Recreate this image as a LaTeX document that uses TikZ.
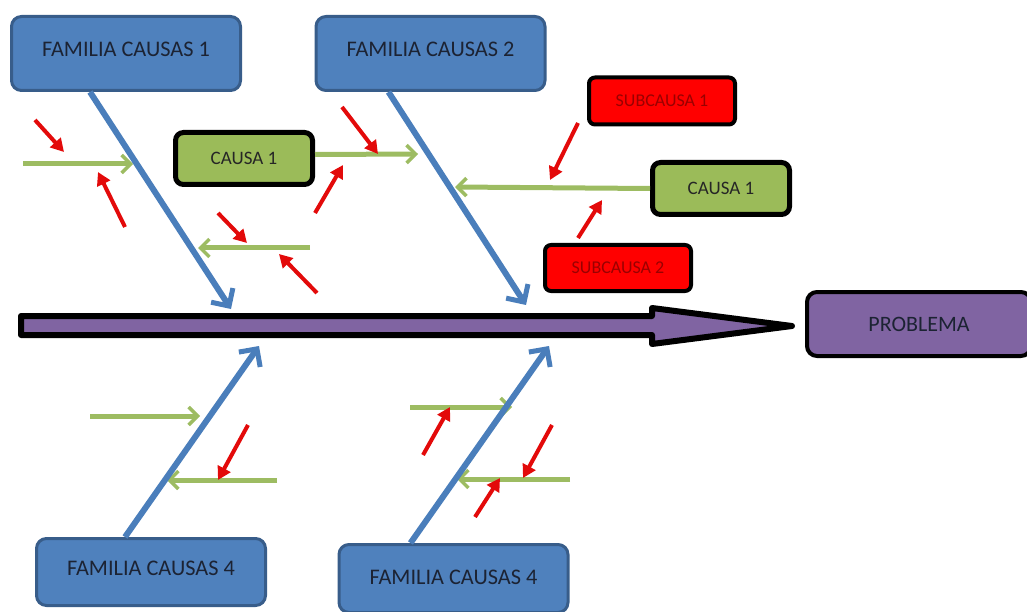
\documentclass[tikz,border=0pt]{standalone}
\usepackage{fontspec}
\setmainfont{Carlito}
\usepackage{tikz}
\usetikzlibrary{arrows.meta}

\definecolor{famblue}{HTML}{4F81BD}
\definecolor{famline}{HTML}{385D8A}
\definecolor{famtext}{HTML}{1C2333}
\definecolor{boneblue}{HTML}{4A7EBB}
\definecolor{causegreen}{HTML}{9BBB59}
\definecolor{bonegreen}{HTML}{9DBC62}
\definecolor{subred}{HTML}{FF0000}
\definecolor{subtext}{HTML}{9A0000}
\definecolor{arrowred}{HTML}{E30A0A}
\definecolor{probpurple}{HTML}{8064A2}

\begin{document}
\begin{tikzpicture}[
    x=1pt, y=-1pt,
    famblock/.style={rectangle, draw=famline, fill=famblue, line width=3pt, rounded corners=10pt, minimum width=229pt, minimum height=74pt, inner sep=0pt, text depth=8pt, text=famtext, font=\fontsize{22.3}{25}\selectfont},
    causebox/.style={rectangle, draw=black, fill=causegreen, line width=5pt, rounded corners=8pt, minimum width=137pt, minimum height=52pt, inner sep=0pt, text=black!85, font=\fontsize{19}{22}\selectfont},
    subbox/.style={rectangle, draw=black, fill=subred, line width=4pt, rounded corners=6pt, minimum width=146pt, minimum height=47pt, inner sep=0pt, text=subtext, font=\fontsize{18}{21}\selectfont},
    probbox/.style={rectangle, draw=black, fill=probpurple, line width=4pt, rounded corners=10pt, minimum width=224pt, minimum height=64pt, inner sep=0pt, text=famtext, font=\fontsize{22}{26}\selectfont},
    famarrow/.style={-{Straight Barb[length=13pt,width=26pt,line width=5pt]}, draw=boneblue, line width=6pt},
    causearrow/.style={-{Straight Barb[length=9pt,width=18pt,line width=3.5pt]}, draw=bonegreen, line width=5pt},
    subarrow/.style={-{Triangle[length=13pt,width=14pt]}, draw=arrowred, line width=4pt}
]
\useasboundingbox (0,0) rectangle (1027,612);

% Spine
\filldraw[fill=probpurple, draw=black, line width=6pt, line join=round]
    (21,316) -- (652,316) -- (652,308) -- (792,326) -- (652,344) -- (652,335) -- (21,335) -- cycle;

% Boxes
\node[famblock] (fc1) at (126,53.5) {FAMILIA CAUSAS 1};
\node[famblock] (fc2) at (430.5,53.5) {FAMILIA CAUSAS 2};
\node[famblock, minimum height=67pt] (fc4a) at (151,572) {FAMILIA CAUSAS 4};
\node[famblock, minimum height=68pt, text depth=3pt] (fc4b) at (453.5,578.5) {FAMILIA CAUSAS 4};
\node[causebox] (causeL) at (244,158.5) {CAUSA 1};
\node[causebox] (causeR) at (721,188.5) {CAUSA 1};
\node[subbox] (sub1) at (662,101) {SUBCAUSA 1};
\node[subbox, minimum height=46pt] (sub2) at (618,268) {SUBCAUSA 2};
\node[probbox] (prob) at (919,324) {PROBLEMA};

% Bone ends on the spine
\coordinate (j1) at (231,309);
\coordinate (j2) at (526,305);
\coordinate (j3) at (259,346);
\coordinate (j4) at (549,346);

% Causes (green)
\coordinate (g1s) at (23,164);  \coordinate (g1e) at (133,164);
\coordinate (g2e) at (418,154);
\coordinate (g3s) at (310,248); \coordinate (g3e) at (198,248);
\coordinate (g4e) at (455,187);
\coordinate (g5s) at (90,416);  \coordinate (g5e) at (200,416);
\coordinate (g6s) at (277,480); \coordinate (g6e) at (167,480);
\coordinate (g7s) at (410,407); \coordinate (g7e) at (512,407);
\coordinate (g8s) at (570,479); \coordinate (g8e) at (457,479);

\draw[causearrow] (g1s) -- (g1e);
\draw[causearrow] ([yshift=4pt]causeL.east) -- (g2e);
\draw[causearrow] (g3s) -- (g3e);
\draw[causearrow] (causeR.west) -- (g4e);
\draw[causearrow] (g5s) -- (g5e);
\draw[causearrow] (g6s) -- (g6e);
\draw[causearrow] (g7s) -- (g7e);
\draw[causearrow] (g8s) -- (g8e);

% Families (blue)
\draw[famarrow] ([xshift=-36pt]fc1.south) -- (j1);
\draw[famarrow] ([xshift=-42pt]fc2.south) -- (j2);
\draw[famarrow] ([xshift=-26pt]fc4a.north) -- (j3);
\draw[famarrow] ([xshift=-43pt]fc4b.north) -- (j4);

% Subcauses (red)
\coordinate (r1s) at (35,120);  \coordinate (r1e) at (64,152);
\coordinate (r2s) at (125,227); \coordinate (r2e) at (98,172);
\coordinate (r3s) at (218,213); \coordinate (r3e) at (247,243);
\coordinate (r4s) at (317,293); \coordinate (r4e) at (279,254);
\coordinate (r5s) at (342,107); \coordinate (r5e) at (378,154);
\coordinate (r6s) at (315,213); \coordinate (r6e) at (343,165);
\coordinate (r7s) at (578,123); \coordinate (r7e) at (550,180);
\coordinate (r8s) at (578,238); \coordinate (r8e) at (602,200);
\coordinate (r9s) at (248,425); \coordinate (r9e) at (218,480);
\coordinate (r10s) at (423,455); \coordinate (r10e) at (450,407);
\coordinate (r11s) at (552,425); \coordinate (r11e) at (523,478);
\coordinate (r12s) at (475,517); \coordinate (r12e) at (500,478);

\foreach \k in {1,...,12}
    \draw[subarrow] (r\k s) -- (r\k e);

\end{tikzpicture}
\end{document}
